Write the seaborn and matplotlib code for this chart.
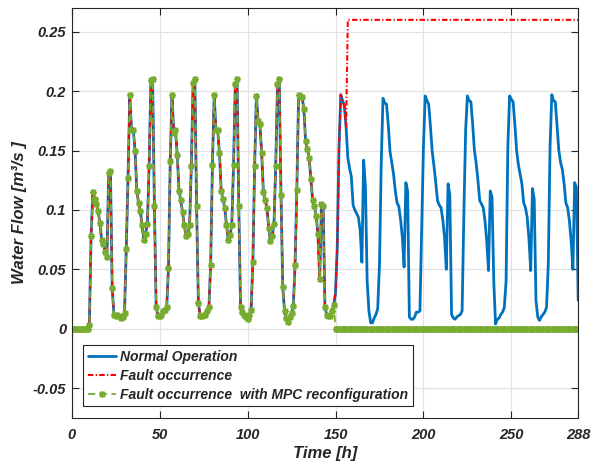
import numpy as np
import pandas as pd
import matplotlib
matplotlib.use("Agg")
import matplotlib.pyplot as plt
import seaborn as sns

# hourly water flow [m3/s], one list per day
day00 = [0.0, 0.0, 0.0, 0.0, 0.0, 0.0, 0.0, 0.0, 0.0, 0.0, 0.003, 0.078,
         0.115, 0.109, 0.105, 0.099, 0.089, 0.075, 0.071, 0.065, 0.060, 0.131, 0.133, 0.034]
day01 = [0.012, 0.011, 0.012, 0.011, 0.009, 0.010, 0.013, 0.067, 0.127, 0.197, 0.167, 0.167,
         0.150, 0.116, 0.106, 0.099, 0.087, 0.075, 0.080, 0.088, 0.137, 0.209, 0.210, 0.103]
day02 = [0.018, 0.011, 0.011, 0.012, 0.015, 0.016, 0.018, 0.051, 0.141, 0.197, 0.165, 0.167,
         0.146, 0.116, 0.108, 0.098, 0.087, 0.078, 0.080, 0.087, 0.137, 0.207, 0.210, 0.103]
day03 = [0.022, 0.011, 0.011, 0.012, 0.012, 0.015, 0.018, 0.054, 0.138, 0.197, 0.167, 0.167,
         0.148, 0.116, 0.109, 0.102, 0.087, 0.075, 0.079, 0.087, 0.138, 0.206, 0.210, 0.103]
day04 = [0.018, 0.014, 0.012, 0.010, 0.008, 0.012, 0.016, 0.056, 0.137, 0.196, 0.175, 0.172,
         0.148, 0.115, 0.108, 0.102, 0.085, 0.074, 0.078, 0.088, 0.137, 0.206, 0.210, 0.113]
day05 = [0.035, 0.015, 0.009, 0.006, 0.010, 0.013, 0.019, 0.054, 0.117, 0.197, 0.196, 0.195,
         0.185, 0.158, 0.151, 0.144, 0.126, 0.108, 0.103, 0.095, 0.080, 0.042, 0.105, 0.103]
day06 = [0.018, 0.012, 0.011, 0.011, 0.015, 0.020, 0.030, 0.069, 0.153, 0.197, 0.192, 0.188,
         0.170, 0.144, 0.135, 0.128, 0.104, 0.100, 0.097, 0.094, 0.083, 0.056, 0.142, 0.120]
day07 = [0.040, 0.015, 0.005, 0.005, 0.009, 0.012, 0.017, 0.054, 0.139, 0.194, 0.190, 0.189,
         0.172, 0.149, 0.140, 0.130, 0.116, 0.106, 0.103, 0.092, 0.077, 0.052, 0.123, 0.116]
day08 = [0.010, 0.008, 0.008, 0.010, 0.014, 0.014, 0.015, 0.083, 0.153, 0.196, 0.192, 0.189,
         0.170, 0.149, 0.137, 0.123, 0.108, 0.104, 0.102, 0.092, 0.077, 0.050, 0.122, 0.113]
day09 = [0.012, 0.009, 0.008, 0.010, 0.011, 0.012, 0.015, 0.097, 0.167, 0.196, 0.192, 0.191,
         0.172, 0.150, 0.139, 0.125, 0.108, 0.105, 0.102, 0.091, 0.074, 0.049, 0.116, 0.111]
day10 = [0.040, 0.004, 0.008, 0.009, 0.012, 0.014, 0.018, 0.040, 0.153, 0.196, 0.193, 0.191,
         0.172, 0.150, 0.138, 0.130, 0.122, 0.106, 0.102, 0.094, 0.076, 0.049, 0.118, 0.109]
day11 = [0.024, 0.010, 0.007, 0.010, 0.012, 0.014, 0.018, 0.054, 0.153, 0.197, 0.192, 0.191,
         0.170, 0.150, 0.140, 0.134, 0.122, 0.106, 0.102, 0.091, 0.074, 0.050, 0.123, 0.119]
hour288 = [0.024]

fault_level = 0.26   # flow after the fault
fault_hour = 157     # first hour at the fault level
mpc_hour = 150       # first hour with zero flow under MPC reconfiguration

x_ticks = [0, 50, 100, 150, 200, 250, 288]
y_ticks = [-0.05, 0, 0.05, 0.1, 0.15, 0.2, 0.25]

normal = np.array(day00 + day01 + day02 + day03 + day04 + day05 + day06
                  + day07 + day08 + day09 + day10 + day11 + hour288)
hours = np.arange(len(normal))
fault = np.where(hours < fault_hour, normal, fault_level)
mpc = np.where(hours < mpc_hour, normal, 0.0)

df = pd.DataFrame({"Time": hours, "Normal": normal, "Fault": fault, "MPC": mpc})

sns.set_theme(style="whitegrid")
plt.rcParams["font.family"] = ["Liberation Sans", "DejaVu Sans"]
plt.rcParams["font.weight"] = "bold"
plt.rcParams["font.style"] = "italic"

fig, ax = plt.subplots(figsize=(5.93, 4.69), dpi=100)
fig.subplots_adjust(left=0.121, right=0.975, top=0.983, bottom=0.109)

sns.lineplot(data=df, x="Time", y="Normal", ax=ax, color="#0072BD", lw=2.0,
             label="Normal Operation")
sns.lineplot(data=df, x="Time", y="Fault", ax=ax, color="red", lw=1.5,
             linestyle=(0, (2.6, 1.1, 0.6, 1.1)), label="Fault occurrence")
sns.lineplot(data=df, x="Time", y="MPC", ax=ax, color="#77AC30", lw=1.3,
             linestyle=(0, (4, 2.5)), marker=(8, 2, 0), markersize=5,
             markeredgewidth=1.0, markeredgecolor="#77AC30",
             label="Fault occurrence  with MPC reconfiguration")

ax.set_xlim(0, 288)
ax.set_ylim(-0.075, 0.27)
ax.set_xticks(x_ticks)
ax.set_xticklabels([str(v) for v in x_ticks])
ax.set_yticks(y_ticks)
ax.set_yticklabels([f"{v:g}" for v in y_ticks])

ax.grid(True, color="#e3e3e3", lw=0.9)
for s in ax.spines.values():
    s.set_visible(True)
    s.set_color("#262626")
    s.set_linewidth(0.8)
ax.tick_params(direction="in", length=5, width=0.8, colors="#262626",
               bottom=True, left=True, top=True, right=True, labelsize=10.5)
ax.tick_params(axis="x", pad=7)
ax.tick_params(axis="y", pad=4)
for lab in ax.get_xticklabels() + ax.get_yticklabels():
    lab.set_fontweight("bold")
    lab.set_fontstyle("italic")

ax.set_xlabel("Time [h]", fontsize=12, fontweight="bold", fontstyle="italic",
              color="#262626", labelpad=3)
ax.set_ylabel("Water Flow [m³/s ]", fontsize=12, fontweight="bold", fontstyle="italic",
              color="#262626", labelpad=4)

leg = ax.legend(loc="lower left", bbox_to_anchor=(0.022, 0.028), borderaxespad=0,
                frameon=True, fancybox=False, framealpha=1, edgecolor="#262626",
                prop=dict(weight="bold", style="italic", size=10),
                handlelength=2.0, labelspacing=0.35, borderpad=0.35, handletextpad=0.3)
leg.get_frame().set_linewidth(0.8)

fig.savefig("out.png", dpi=100)
